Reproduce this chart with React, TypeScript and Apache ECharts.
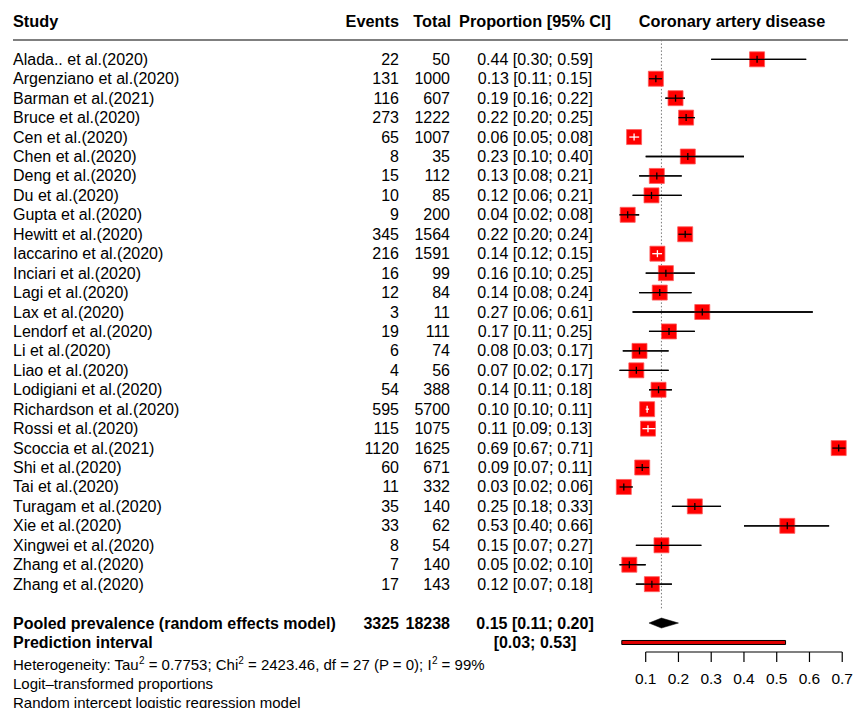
import React, { useEffect, useRef } from 'react';
import * as echarts from 'echarts';

const studies = [
  'Alada.. et al.(2020)', 'Argenziano et al.(2020)', 'Barman et al.(2021)', 'Bruce et al.(2020)',
  'Cen et al.(2020)', 'Chen et al.(2020)', 'Deng et al.(2020)', 'Du et al.(2020)',
  'Gupta et al.(2020)', 'Hewitt et al.(2020)', 'Iaccarino et al.(2020)', 'Inciari et al.(2020)',
  'Lagi et al.(2020)', 'Lax et al.(2020)', 'Lendorf et al.(2020)', 'Li et al.(2020)',
  'Liao et al.(2020)', 'Lodigiani et al.(2020)', 'Richardson et al.(2020)', 'Rossi et al.(2020)',
  'Scoccia et al.(2021)', 'Shi et al.(2020)', 'Tai et al.(2020)', 'Turagam et al.(2020)',
  'Xie et al.(2020)', 'Xingwei et al.(2020)', 'Zhang et al.(2020)', 'Zhang et al.(2020)'
];
const events = [22, 131, 116, 273, 65, 8, 15, 10, 9, 345, 216, 16, 12, 3, 19, 6, 4, 54, 595, 115, 1120, 60, 11, 35, 33, 8, 7, 17];
const totals = [50, 1000, 607, 1222, 1007, 35, 112, 85, 200, 1564, 1591, 99, 84, 11, 111, 74, 56, 388, 5700, 1075, 1625, 671, 332, 140, 62, 54, 140, 143];
const proportions = [0.44, 0.13, 0.19, 0.22, 0.06, 0.23, 0.13, 0.12, 0.04, 0.22, 0.14, 0.16, 0.14, 0.27, 0.17, 0.08, 0.07, 0.14, 0.10, 0.11, 0.69, 0.09, 0.03, 0.25, 0.53, 0.15, 0.05, 0.12];
const lowers = [0.30, 0.11, 0.16, 0.20, 0.05, 0.10, 0.08, 0.06, 0.02, 0.20, 0.12, 0.10, 0.08, 0.06, 0.11, 0.03, 0.02, 0.11, 0.10, 0.09, 0.67, 0.07, 0.02, 0.18, 0.40, 0.07, 0.02, 0.07];
const uppers = [0.59, 0.15, 0.22, 0.25, 0.08, 0.40, 0.21, 0.21, 0.08, 0.24, 0.15, 0.25, 0.24, 0.61, 0.25, 0.17, 0.17, 0.18, 0.11, 0.13, 0.71, 0.11, 0.06, 0.33, 0.66, 0.27, 0.10, 0.18];
// CI entirely inside the square (drawn in white)
const ciInside = [false, false, false, false, true, false, false, false, false, false, true, false, false, false, false, false, false, false, true, true, false, false, false, false, false, false, false, false];

const pooledLabel = 'Pooled prevalence (random effects model)';
const pooledEvents = 3325;
const pooledTotal = 18238;
const pooledEst = 0.148;
const pooledLower = 0.11;
const pooledUpper = 0.20;
const predLabel = 'Prediction interval';
const predLower = 0.027;
const predUpper = 0.527;

const xTicks = [0.1, 0.2, 0.3, 0.4, 0.5, 0.6, 0.7];

const headers = ['Study', 'Events', 'Total', 'Proportion [95% CI]', 'Coronary artery disease'];
const notes = [
  'Heterogeneity: Tau{sup|2} = 0.7753; Chi{sup|2} = 2423.46, df = 27 (P = 0); I{sup|2} = 99%',
  'Logit\u2013transformed proportions',
  'Random intercept logistic regression model'
];

const FONT = '"Liberation Sans", Arial, Helvetica, sans-serif';
const FS = 16;
const X_STUDY = 13;
const X_EVENTS = 399;
const X_TOTAL = 450;
const X_PROP = 535;
const Y_MIN = -1;
const Y_MAX = 30.5;
const AXIS_Y = 652;

const fmt = (v: number) => v.toFixed(2);

export default function App() {
  const ref = useRef<HTMLDivElement>(null);
  useEffect(() => {
    const chart = echarts.init(ref.current!, null, { renderer: 'svg' });

    const txt = (text: string, x: number, y: number, align: string, bold = false, size = FS, rich = false) => {
      const style: any = {
        text,
        fill: '#000',
        fontFamily: FONT,
        fontSize: size,
        fontWeight: bold ? 'bold' : 'normal',
        align,
        verticalAlign: 'middle'
      };
      if (rich) {
        style.rich = { sup: { fontSize: 10, fontFamily: FONT, fill: '#000', verticalAlign: 'top', lineHeight: 17 } };
      }
      return { type: 'text', silent: true, x, y, style };
    };

    const studyData = studies.map((_, i) => [events[i] / totals[i], i, lowers[i], uppers[i], i]);
    const POOLED_ROW = studies.length + 1;
    const PRED_ROW = studies.length + 2;

    const staticGraphic: any[] = [
      txt(headers[0], X_STUDY, 21, 'left', true, 16.3),
      txt(headers[1], X_EVENTS, 21, 'right', true, 16.3),
      txt(headers[2], X_TOTAL + 1, 21, 'right', true, 16.3),
      txt(headers[3], X_PROP, 21, 'center', true, 16.3),
      txt(headers[4], 732, 21, 'center', true, 16.3),
      {
        type: 'line', silent: true,
        shape: { x1: 13, y1: 40, x2: 848, y2: 40 },
        style: { stroke: '#555', lineWidth: 1.5 }
      },
      txt(notes[0], X_STUDY, 664, 'left', false, 15, true),
      txt(notes[1], X_STUDY, 683, 'left', false, 15),
      txt(notes[2], X_STUDY, 702, 'left', false, 15)
    ];

    const option: any = {
      animation: false,
      backgroundColor: '#fff',
      grid: { left: 645.7, right: 11.7, top: 39.86, bottom: 55.8 },
      xAxis: {
        type: 'value',
        position: 'bottom',
        min: xTicks[0],
        max: xTicks[xTicks.length - 1],
        interval: 0.1,
        axisLine: { show: false },
        axisTick: { show: false },
        axisLabel: {
          color: '#000', fontSize: 15.5, fontFamily: FONT, margin: 18,
          formatter: (v: number) => v.toFixed(1)
        },
        splitLine: { show: false }
      },
      yAxis: { type: 'value', show: false, inverse: true, min: Y_MIN, max: Y_MAX },
      graphic: staticGraphic,
      series: [
        {
          type: 'custom',
          clip: false,
          data: [[pooledEst, Y_MIN, POOLED_ROW - 0.74]],
          renderItem: (params: any, api: any) => {
            const a = api.coord([api.value(0), api.value(1)]);
            const b = api.coord([api.value(0), api.value(2)]);
            return {
              type: 'line',
              shape: { x1: a[0], y1: a[1], x2: b[0], y2: b[1] },
              style: { stroke: '#777', lineWidth: 1, lineDash: [1.5, 2] }
            };
          }
        },
        {
          type: 'custom',
          clip: false,
          data: studyData,
          renderItem: (params: any, api: any) => {
            const i = api.value(4);
            const row = api.value(1);
            const c = api.coord([api.value(0), row]);
            const l = api.coord([api.value(2), row]);
            const h = api.coord([api.value(3), row]);
            const y = c[1];
            const s = 15;
            const col = ciInside[i] ? '#fff' : '#000';
            return {
              type: 'group',
              children: [
                { type: 'line', shape: { x1: l[0], y1: y, x2: h[0], y2: y }, style: { stroke: '#000', lineWidth: 1.3 } },
                { type: 'rect', shape: { x: c[0] - s / 2, y: y - s / 2, width: s, height: s }, style: { fill: '#ff0000', stroke: '#ff5a5a', lineWidth: 0.8 } },
                { type: 'line', shape: { x1: l[0], y1: y, x2: h[0], y2: y }, style: { stroke: col, lineWidth: 1.3 } },
                { type: 'line', shape: { x1: c[0], y1: y - 3.5, x2: c[0], y2: y + 3.5 }, style: { stroke: col, lineWidth: 1.3 } },
                txt(studies[i], X_STUDY, y, 'left'),
                txt(String(events[i]), X_EVENTS, y, 'right'),
                txt(String(totals[i]), X_TOTAL, y, 'right'),
                txt(`${fmt(proportions[i])} [${fmt(lowers[i])}; ${fmt(uppers[i])}]`, X_PROP, y, 'center')
              ]
            };
          }
        },
        {
          type: 'custom',
          clip: false,
          data: [[pooledEst, POOLED_ROW, pooledLower, pooledUpper]],
          renderItem: (params: any, api: any) => {
            const row = api.value(1);
            const c = api.coord([api.value(0), row]);
            const l = api.coord([api.value(2), row]);
            const h = api.coord([api.value(3), row]);
            const y = c[1];
            return {
              type: 'group',
              children: [
                { type: 'polygon', shape: { points: [[l[0], y], [c[0], y - 5], [h[0], y], [c[0], y + 5]] }, style: { fill: '#000', stroke: '#000', lineWidth: 0.5 } },
                txt(pooledLabel, X_STUDY, y, 'left', true),
                txt(String(pooledEvents), X_EVENTS, y, 'right', true),
                txt(String(pooledTotal), X_TOTAL, y, 'right', true),
                txt(`${fmt(pooledEst)} [${fmt(pooledLower)}; ${fmt(pooledUpper)}]`, X_PROP, y, 'center', true)
              ]
            };
          }
        },
        {
          type: 'custom',
          clip: false,
          data: [[predLower, PRED_ROW, predUpper]],
          renderItem: (params: any, api: any) => {
            const row = api.value(1);
            const l = api.coord([api.value(0), row]);
            const h = api.coord([api.value(2), row]);
            const y = l[1];
            return {
              type: 'group',
              children: [
                { type: 'rect', shape: { x: l[0], y: y - 2, width: h[0] - l[0], height: 4 }, style: { fill: '#e00000', stroke: '#000', lineWidth: 1 } },
                txt(predLabel, X_STUDY, y, 'left', true),
                txt(`[${fmt(predLower)}; ${fmt(predUpper)}]`, X_PROP, y, 'center', true)
              ]
            };
          }
        }
      ]
    };
    chart.setOption(option);

    // x axis: horizontal positions from the chart's x scale, fixed baseline
    const px = (v: number) => {
      const p = chart.convertToPixel({ xAxisIndex: 0 }, v) as any;
      return typeof p === 'number' ? p : Array.isArray(p) ? p[0] : 645.7 + (v - 0.1) * 331;
    };
    const x0 = px(xTicks[0]);
    const x1 = px(xTicks[xTicks.length - 1]);
    const axisGraphic: any[] = [
      { type: 'line', silent: true, z: 100, shape: { x1: x0, y1: AXIS_Y, x2: x1, y2: AXIS_Y }, style: { stroke: '#000', lineWidth: 1.2 } }
    ];
    xTicks.forEach((t) => {
      const x = px(t);
      axisGraphic.push({ type: 'line', silent: true, z: 100, shape: { x1: x, y1: AXIS_Y, x2: x, y2: AXIS_Y + 10 }, style: { stroke: '#000', lineWidth: 1.2 } });
    });
    chart.setOption({ graphic: [...staticGraphic, ...axisGraphic] });

    return () => chart.dispose();
  }, []);
  return <div ref={ref} style={{ position: 'fixed', left: 0, top: 0, width: 856, height: 708, background: '#fff' }} />;
}
